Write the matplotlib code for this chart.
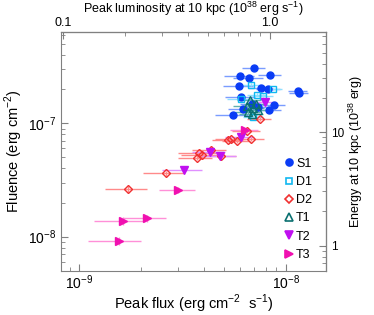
import matplotlib
matplotlib.use('Agg')
import matplotlib.pyplot as plt
from matplotlib.lines import Line2D
import numpy as np

plt.rcParams['font.family'] = ['Liberation Sans', 'DejaVu Sans']
plt.rcParams['mathtext.fontset'] = 'custom'
plt.rcParams['mathtext.rm'] = 'Liberation Sans'

# peak flux in 1e-9 erg/cm2/s, fluence in 1e-7 erg/cm2
s1_flux = [7.05, 8.4, 6.03, 6.66, 5.94, 7.59, 8.24, 11.4, 11.6, 6.07, 8.78, 8.3, 5.54, 6.23, 6.87, 7.34]
s1_fluence = [3.09, 2.68, 2.60, 2.49, 2.15, 2.06, 2.01, 1.91, 1.84, 1.71, 1.45, 1.31, 1.18, 1.33, 1.48, 1.39]
s1_xerr = [0.9, 1.1, 1.0, 1.1, 1.0, 1.0, 1.1, 1.2, 1.2, 1.0, 1.1, 1.2, 1.0, 1.0, 0.9, 1.0]
s1_yerr = [0.08, 0.07, 0.07, 0.07, 0.06, 0.06, 0.06, 0.06, 0.06, 0.05, 0.05, 0.05, 0.04, 0.05, 0.05, 0.05]

d1_flux = [6.81, 8.71, 7.79, 7.26, 6.07, 6.97]
d1_fluence = [2.20, 2.01, 1.76, 1.79, 1.65, 1.14]
d1_xerr = [0.8, 0.9, 0.9, 0.8, 0.9, 0.8]
d1_yerr = [0.06, 0.06, 0.05, 0.05, 0.05, 0.04]

d2_flux = [7.51, 6.49, 5.27, 5.43, 5.79, 6.77, 4.33, 3.81, 3.92, 3.71, 4.83, 2.63, 1.73]
d2_fluence = [1.09, 0.855, 0.708, 0.734, 0.702, 0.724, 0.587, 0.544, 0.525, 0.499, 0.512, 0.363, 0.263]
d2_xerr = [1.0, 1.0, 0.9, 0.9, 0.9, 1.1, 0.8, 0.8, 0.8, 0.7, 0.9, 0.6, 0.4]
d2_yerr = [0.05, 0.04, 0.03, 0.03, 0.03, 0.03, 0.03, 0.03, 0.03, 0.02, 0.03, 0.02, 0.015]

t1_flux = [6.71, 6.47, 6.97, 7.37, 6.85, 7.18, 6.56]
t1_fluence = [1.61, 1.41, 1.36, 1.31, 1.21, 1.48, 1.26]
t1_xerr = [0.9, 0.9, 0.9, 0.9, 0.9, 0.9, 0.9]
t1_yerr = [0.05, 0.05, 0.05, 0.05, 0.04, 0.05, 0.04]

t2_flux = [7.94, 6.05, 4.30, 4.81, 3.21]
t2_fluence = [1.54, 0.757, 0.564, 0.52, 0.389]
t2_xerr = [1.0, 1.0, 0.8, 0.9, 0.7]
t2_yerr = [0.05, 0.03, 0.03, 0.03, 0.02]

t3_flux = [6.35, 3.02, 2.13, 1.63, 1.55]
t3_fluence = [0.873, 0.257, 0.145, 0.138, 0.0917]
t3_xerr = [1.0, 0.6, 0.5, 0.45, 0.45]
t3_yerr = [0.04, 0.015, 0.01, 0.01, 0.008]

series = [
    ('S1', s1_flux, s1_fluence, s1_xerr, s1_yerr, 'o', '#0a3cf5', '#0a3cf5', '#7a9cff', 5.0),
    ('D1', d1_flux, d1_fluence, d1_xerr, d1_yerr, 's', 'none', '#10b8f0', '#90e0ff', 5.0),
    ('D2', d2_flux, d2_fluence, d2_xerr, d2_yerr, 'D', 'none', '#f03030', '#ff8a8a', 4.5),
    ('T1', t1_flux, t1_fluence, t1_xerr, t1_yerr, '^', 'none', '#0a7070', '#60b0b0', 6.0),
    ('T2', t2_flux, t2_fluence, t2_xerr, t2_yerr, 'v', '#c010f0', '#c010f0', '#e090ff', 5.5),
    ('T3', t3_flux, t3_fluence, t3_xerr, t3_yerr, '>', '#f010b0', '#f010b0', '#ff90d8', 5.5),
]

dist_factor = 1.197e46 / 1e38  # 4 pi (10 kpc)^2, in units of 1e38

fig = plt.figure(figsize=(3.74, 3.15), dpi=100)
ax = fig.add_axes([0.163, 0.140, 0.709, 0.758])

handles = []
for name, fx, fl, xe, ye, mk, fc, ec, errc, ms in series:
    x = np.array(fx) * 1e-9
    y = np.array(fl) * 1e-7
    ax.errorbar(x, y, xerr=np.array(xe) * 1e-9, yerr=np.array(ye) * 1e-7,
                fmt=mk, ms=ms, mfc=fc, mec=ec, mew=1.0, ecolor=errc,
                elinewidth=1.0, capsize=0, zorder=3)
    handles.append(Line2D([], [], ls='none', marker=mk, ms=ms, mfc=fc, mec=ec,
                          mew=1.2, label=name))

ax.set_xscale('log')
ax.set_yscale('log')
ax.set_xlim(8.15e-10, 1.567e-8)
ax.set_ylim(4.99e-9, 6.38e-7)

gray = '#808080'
for sp in ax.spines.values():
    sp.set_color(gray)
ax.tick_params(which='both', direction='in', colors=gray, labelcolor='black',
               labelsize=10)
ax.tick_params(axis='x', pad=2)
ax.tick_params(which='major', length=5)
ax.tick_params(which='minor', length=3)
ax.set_xticks([1e-9, 1e-8])
ax.set_xticklabels(['10$^{-9}$', '10$^{-8}$'])
ax.set_yticks([1e-8, 1e-7])
ax.set_yticklabels(['10$^{-8}$', '10$^{-7}$'])

ax.set_xlabel('Peak flux (erg cm$^{-2}$  s$^{-1}$)', fontsize=10.5, labelpad=0)
ax.set_ylabel('Fluence (erg cm$^{-2}$)', fontsize=10.5, labelpad=2)

top = ax.secondary_xaxis('top', functions=(lambda f: f * dist_factor,
                                           lambda l: l / dist_factor))
top.set_xscale('log')
top.set_xticks([0.1, 1.0])
top.set_xticklabels(['0.1', '1.0'])
top.tick_params(which='both', direction='in', colors=gray, labelcolor='black',
                labelsize=9, pad=2)
top.tick_params(which='major', length=5)
top.tick_params(which='minor', length=3)
top.set_xlabel('Peak luminosity at 10 kpc (10$^{38}$ erg s$^{-1}$)', fontsize=9,
               labelpad=3)

right = ax.secondary_yaxis('right', functions=(lambda f: f * dist_factor,
                                               lambda e: e / dist_factor))
right.set_yscale('log')
right.set_yticks([1, 10])
right.set_yticklabels(['1', '10'])
right.tick_params(which='both', direction='in', colors=gray, labelcolor='black',
                  labelsize=8.5)
right.tick_params(which='major', length=5)
right.tick_params(which='minor', length=3)
right.set_ylabel('Energy at 10 kpc (10$^{38}$ erg)', fontsize=9, labelpad=2)

ax.legend(handles=handles, loc='lower right', frameon=False, fontsize=9,
          handlelength=0.6, handletextpad=0.3, labelspacing=0.5,
          borderaxespad=0.4, bbox_to_anchor=(0.985, 0.0))

fig.savefig('out.png', dpi=100)
